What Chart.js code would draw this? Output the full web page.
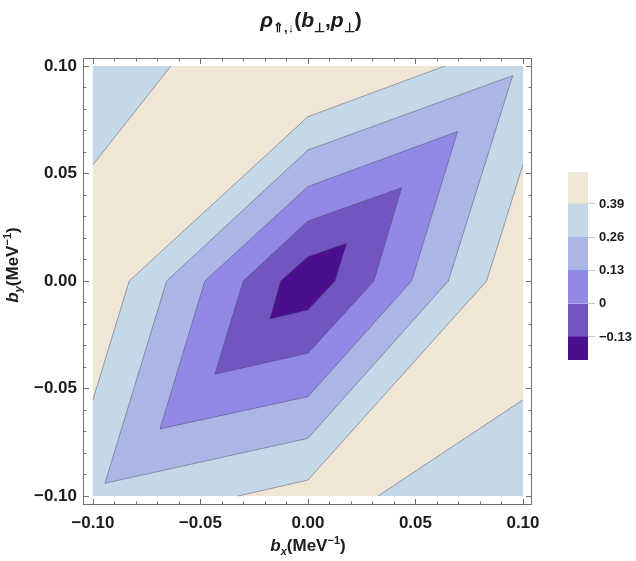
<!DOCTYPE html>
<html>
<head>
<meta charset="utf-8">
<script src="https://cdn.jsdelivr.net/npm/chart.js@4/dist/chart.umd.min.js"></script>
<style>
  body { margin: 0; background: #fff; }
  #wrap { position: relative; width: 636px; height: 561px; }
  #chart { position: absolute; left: 0; top: 0; }
  #bar { position: absolute; left: 540px; top: 150px; }
</style>
</head>
<body>
<div id="wrap">
  <canvas id="chart" width="636" height="561"></canvas>
  <canvas id="bar" width="96" height="230"></canvas>
</div>
<script>
// axis ticks
const xTicks = [-0.1, -0.05, 0, 0.05, 0.1];
const yTicks = [-0.1, -0.05, 0, 0.05, 0.1];
const frameTicks = [-0.10, -0.09, -0.08, -0.07, -0.06, -0.05, -0.04, -0.03, -0.02, -0.01, 0,
  0.01, 0.02, 0.03, 0.04, 0.05, 0.06, 0.07, 0.08, 0.09, 0.10];

// contour levels (colour bar)
const levels = [-0.13, 0, 0.13, 0.26, 0.39];
const levelLabels = ['−0.13', '0', '0.13', '0.26', '0.39'];
const barEdges = [-0.22, -0.13, 0, 0.13, 0.26, 0.39, 0.515];

// regions (x, y)
const plotRect = [[-0.1, -0.1], [-0.1, 0.1], [0.1, 0.1], [0.1, -0.1]];
const cornerTL = [[-0.1, 0.1], [-0.1, 0.054], [-0.0637, 0.1]];
const cornerBR = [[0.1, -0.1], [0.0326, -0.1], [0.1, -0.0553]];
const band039 = [[-0.1, -0.0553], [-0.0831, 0], [0, 0.0764], [0.0637, 0.1], [0.1, 0.1],
  [0.1, 0.054], [0.0831, 0], [0, -0.0926], [-0.0324, -0.1], [-0.1, -0.1]];
const band026 = [[-0.0944, -0.0941], [-0.0657, 0], [0, 0.0609], [0.0952, 0.0955], [0.0653, 0], [0, -0.0732]];
const band013 = [[-0.0688, -0.0688], [-0.0479, 0], [0, 0.0439], [0.0696, 0.0695], [0.0482, 0], [0, -0.0538]];
const band000 = [[-0.0433, -0.0434], [-0.0301, 0], [0, 0.0279], [0.0436, 0.0434], [0.0307, 0], [0, -0.0336]];
const bandM013 = [[-0.0177, -0.0177], [-0.0127, 0], [0, 0.0113], [0.018, 0.0175], [0.0126, 0], [0, -0.0135]];

// 0.39 contour pieces (the rest run along the plot edge)
const line039a = [[-0.1, 0.054], [-0.0637, 0.1]];
const line039b = [[0.0326, -0.1], [0.1, -0.0553]];
const line039c = [[-0.1, -0.0553], [-0.0831, 0], [0, 0.0764], [0.0637, 0.1]];
const line039d = [[0.1, 0.054], [0.0831, 0], [0, -0.0926], [-0.0324, -0.1]];

const colors = ['#4b0e8e', '#7355c2', '#9189e5', '#abb5e6', '#c5d8e7', '#efe6d5'];
const lineColor = 'rgba(70,70,100,0.6)';
const textColor = '#1c1c1c';
const FONT = '"Liberation Sans", Arial, sans-serif';

function pts(arr, close) {
  const p = arr.map(([x, y]) => ({ x, y }));
  if (close) p.push({ x: arr[0][0], y: arr[0][1] });
  return p;
}

function region(arr, color, order, stroke) {
  return {
    data: pts(arr, true), order: order,
    backgroundColor: color, fill: 'shape',
    borderColor: stroke ? lineColor : 'rgba(0,0,0,0)',
    borderWidth: stroke ? 0.8 : 0,
    pointRadius: 0, tension: 0
  };
}

function contour(arr) {
  return {
    data: pts(arr, false), order: 0, fill: false,
    borderColor: lineColor, borderWidth: 0.8,
    pointRadius: 0, tension: 0
  };
}

function rich(ctx, parts, x, y) {
  let w = 0;
  parts.forEach(p => { ctx.font = p.f; w += ctx.measureText(p.t).width; });
  let cx = x - w / 2;
  ctx.textAlign = 'left';
  ctx.textBaseline = 'alphabetic';
  parts.forEach(p => {
    ctx.font = p.f;
    ctx.fillText(p.t, cx, y + (p.dy || 0));
    cx += ctx.measureText(p.t).width;
  });
}

const big = 'bold 17px ' + FONT, bigI = 'italic bold 17px ' + FONT, small = 'bold 11px ' + FONT, smallI = 'italic bold 11px ' + FONT;
const tB = 'bold 21px ' + FONT, tI = 'italic bold 21px ' + FONT, tS = 'bold 13px ' + FONT;

const framePlugin = {
  id: 'frame',
  afterDraw(chart) {
    const { ctx, chartArea: a, scales } = chart;
    ctx.save();
    ctx.strokeStyle = '#707070';
    ctx.lineWidth = 1;
    ctx.strokeRect(a.left + 0.5, a.top + 0.5, a.right - a.left - 1, a.bottom - a.top - 1);
    ctx.beginPath();
    frameTicks.forEach(v => {
      const major = Math.abs(Math.round(v * 100) % 5) === 0;
      const len = major ? 6 : 3.5;
      const px = Math.round(scales.x.getPixelForValue(v)) + 0.5;
      const py = Math.round(scales.y.getPixelForValue(v)) + 0.5;
      ctx.moveTo(px, a.bottom); ctx.lineTo(px, a.bottom - len);
      ctx.moveTo(px, a.top); ctx.lineTo(px, a.top + len);
      ctx.moveTo(a.left, py); ctx.lineTo(a.left + len, py);
      ctx.moveTo(a.right, py); ctx.lineTo(a.right - len, py);
    });
    ctx.stroke();

    ctx.fillStyle = textColor;
    // title
    rich(ctx, [
      { t: 'ρ', f: tI }, { t: '⇑,↓', f: tS, dy: 5 }, { t: '(', f: tB }, { t: 'b', f: tI },
      { t: '⊥', f: tS, dy: 5 }, { t: ',', f: tB }, { t: 'p', f: tI }, { t: '⊥', f: tS, dy: 5 }, { t: ')', f: tB }
    ], 311, 27);
    // x axis title
    rich(ctx, [
      { t: 'b', f: bigI }, { t: 'x', f: smallI, dy: 4 }, { t: '(MeV', f: big },
      { t: '−1', f: small, dy: -7 }, { t: ')', f: big }
    ], 308, 551);
    // y axis title
    ctx.translate(18, 265);
    ctx.rotate(-Math.PI / 2);
    rich(ctx, [
      { t: 'b', f: bigI }, { t: 'y', f: smallI, dy: 4 }, { t: '(MeV', f: big },
      { t: '−1', f: small, dy: -7 }, { t: ')', f: big }
    ], 0, 0);
    ctx.restore();
  }
};

const fmt = v => (v < 0 ? '−' : '') + Math.abs(v).toFixed(2);

new Chart(document.getElementById('chart'), {
  type: 'line',
  data: {
    datasets: [
      region(plotRect, colors[5], 8, false),
      region(cornerTL, colors[4], 7, false),
      region(cornerBR, colors[4], 7, false),
      region(band039, colors[4], 6, false),
      region(band026, colors[3], 5, true),
      region(band013, colors[2], 4, true),
      region(band000, colors[1], 3, true),
      region(bandM013, colors[0], 2, true),
      contour(line039a), contour(line039b), contour(line039c), contour(line039d)
    ]
  },
  options: {
    responsive: false,
    animation: false,
    layout: { padding: { left: 0, top: 58, right: 104, bottom: 0 } },
    plugins: { legend: { display: false }, tooltip: { enabled: false } },
    scales: {
      x: {
        type: 'linear', min: -0.1046, max: 0.1042,
        afterBuildTicks: s => { s.ticks = xTicks.map(v => ({ value: v })); },
        afterFit: s => { s.height = 56; },
        grid: { display: false, drawTicks: false },
        border: { display: false },
        ticks: { padding: 8, color: textColor, font: { family: FONT, size: 17, weight: 'bold' }, callback: fmt, maxRotation: 0 }
      },
      y: {
        type: 'linear', min: -0.1042, max: 0.1037,
        afterBuildTicks: s => { s.ticks = yTicks.map(v => ({ value: v })); },
        afterFit: s => { s.width = 83; },
        grid: { display: false, drawTicks: false },
        border: { display: false },
        ticks: { padding: 6, color: textColor, font: { family: FONT, size: 17, weight: 'bold' }, callback: fmt }
      }
    }
  },
  plugins: [framePlugin]
});

// colour bar legend
new Chart(document.getElementById('bar'), {
  type: 'bar',
  data: {
    labels: [''],
    datasets: colors.map((c, i) => ({
      data: [[barEdges[i], barEdges[i + 1]]],
      backgroundColor: c, borderWidth: 0,
      barPercentage: 1, categoryPercentage: 1
    }))
  },
  options: {
    responsive: false,
    animation: false,
    layout: { padding: { left: 28, top: 22, right: 0, bottom: 20 } },
    plugins: { legend: { display: false }, tooltip: { enabled: false } },
    scales: {
      x: { stacked: true, display: false },
      y: {
        position: 'right', min: barEdges[0], max: barEdges[barEdges.length - 1],
        afterBuildTicks: s => { s.ticks = levels.map(v => ({ value: v })); },
        afterFit: s => { s.width = 48; },
        grid: { drawOnChartArea: false, drawTicks: true, tickLength: 7, color: '#c8c8c8' },
        border: { display: false },
        ticks: {
          padding: 4, color: textColor, font: { family: FONT, size: 13, weight: 'bold' },
          callback: v => levelLabels[levels.indexOf(v)]
        }
      }
    }
  }
});
</script>
</body>
</html>
